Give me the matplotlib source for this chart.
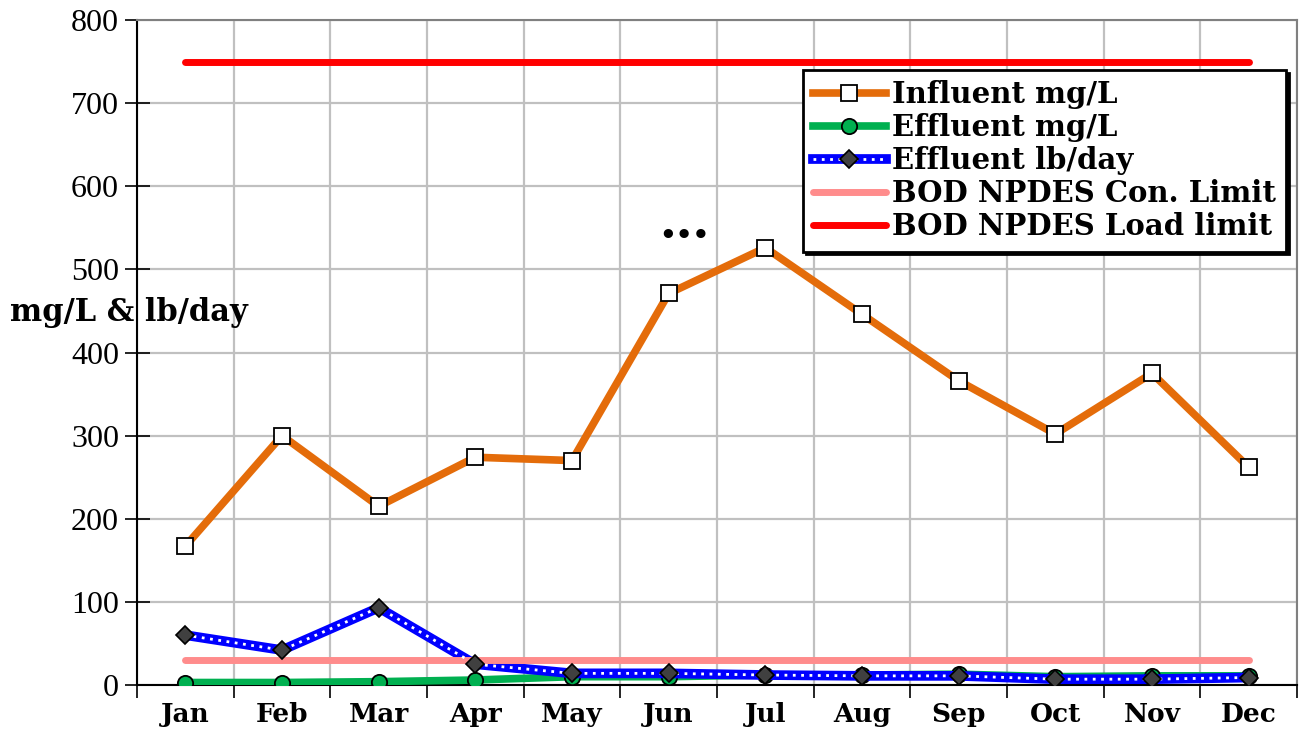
import matplotlib.pyplot as plt
from matplotlib.legend_handler import HandlerTuple
from matplotlib.lines import Line2D
import numpy as np

months = ['Jan', 'Feb', 'Mar', 'Apr', 'May', 'Jun', 'Jul', 'Aug', 'Sep', 'Oct', 'Nov', 'Dec']
influent_mgl = [167, 300, 215, 274, 270, 471, 526, 446, 366, 302, 375, 262]
effluent_mgl = [3, 3, 4, 6, 10, 10, 12, 12, 13, 10, 11, 11]
effluent_lbday = [60, 42, 93, 25, 14, 14, 12, 11, 11, 7, 7, 9]
con_limit = [30] * 12
load_limit = [750] * 12

serif_bold = dict(family='DejaVu Serif', weight='bold')

fig = plt.figure(figsize=(12.99, 7.37), dpi=100)
ax = fig.add_axes([137 / 1299, 52 / 737, 1160 / 1299, 665 / 737])
x = np.arange(len(months))

ax.plot(x, influent_mgl, color='#e46c0a', lw=5.5, marker='s', ms=11,
        mfc='white', mec='black', mew=1.3, zorder=3)
ax.plot(x, effluent_mgl, color='#00b050', lw=5.5, marker='o', ms=11,
        mfc='#00b050', mec='black', mew=1.3, zorder=3)
ax.plot(x, effluent_lbday, color='#0000ff', lw=7, zorder=4)
ax.plot(x, effluent_lbday, color='white', lw=2, ls=(0, (1, 2)), marker='D', ms=9,
        mfc='#404040', mec='black', mew=1.2, zorder=5)
ax.plot(x, con_limit, color='#ff8c8c', lw=5, solid_capstyle='round', zorder=4)
ax.plot(x, load_limit, color='#ff0000', lw=5, solid_capstyle='round', zorder=4)

ax.set_xlim(-0.5, 11.5)
ax.set_ylim(0, 800)
ax.set_yticks(range(0, 801, 100))
ax.set_xticks(x)
ax.set_xticklabels(months, fontsize=19, **serif_bold)
ax.set_xticks(np.arange(-0.5, 12, 1), minor=True)
ax.tick_params(axis='x', which='major', length=0, pad=12)
ax.tick_params(axis='x', which='minor', length=9, width=1.2, direction='out')
ax.tick_params(axis='y', length=18, width=1.2, direction='inout', pad=4,
               labelsize=23, labelfontfamily='Liberation Serif')

ax.grid(True, which='minor', axis='x', color='#c0c0c0', lw=1.6)
ax.grid(True, which='major', axis='y', color='#c0c0c0', lw=1.6)
ax.set_axisbelow(True)
for s in ['top', 'right']:
    ax.spines[s].set_color('#808080')
    ax.spines[s].set_linewidth(1.5)
for s in ['left', 'bottom']:
    ax.spines[s].set_color('black')
    ax.spines[s].set_linewidth(1.5)

fig.text(10 / 1299, 1 - 312 / 737, 'mg/L & lb/day', fontsize=22, va='center', ha='left', **serif_bold)
ax.text(5.16, 541, '\u2022\u2022\u2022', fontsize=19, ha='center', va='center', **serif_bold)

h_inf = Line2D([], [], color='#e46c0a', lw=5.5, marker='s', ms=11, mfc='white', mec='black', mew=1.3)
h_eff = Line2D([], [], color='#00b050', lw=5.5, marker='o', ms=11, mfc='#00b050', mec='black', mew=1.3)
h_lb1 = Line2D([], [], color='#0000ff', lw=7)
h_lb2 = Line2D([], [], color='white', lw=2, ls=(0, (1, 2)), marker='D', ms=9, mfc='#404040', mec='black', mew=1.2)
h_con = Line2D([], [], color='#ff8c8c', lw=5, solid_capstyle='round')
h_load = Line2D([], [], color='#ff0000', lw=5, solid_capstyle='round')

leg = ax.legend([h_inf, h_eff, (h_lb1, h_lb2), h_con, h_load],
                ['Influent mg/L', 'Effluent mg/L', 'Effluent lb/day',
                 'BOD NPDES Con. Limit', 'BOD NPDES Load limit'],
                handler_map={tuple: HandlerTuple(ndivide=1, pad=0)},
                loc='upper right', bbox_to_anchor=(0.9905, 0.925),
                prop=dict(size=21, **serif_bold), fancybox=False, shadow=dict(color='black', alpha=1),
                frameon=True, edgecolor='black', framealpha=1, handlelength=2.5,
                handletextpad=0.2, labelspacing=0.14, borderpad=0.35, borderaxespad=0)
leg.get_frame().set_linewidth(2)
leg.set_zorder(10)

fig.savefig('out.png', dpi=100)
